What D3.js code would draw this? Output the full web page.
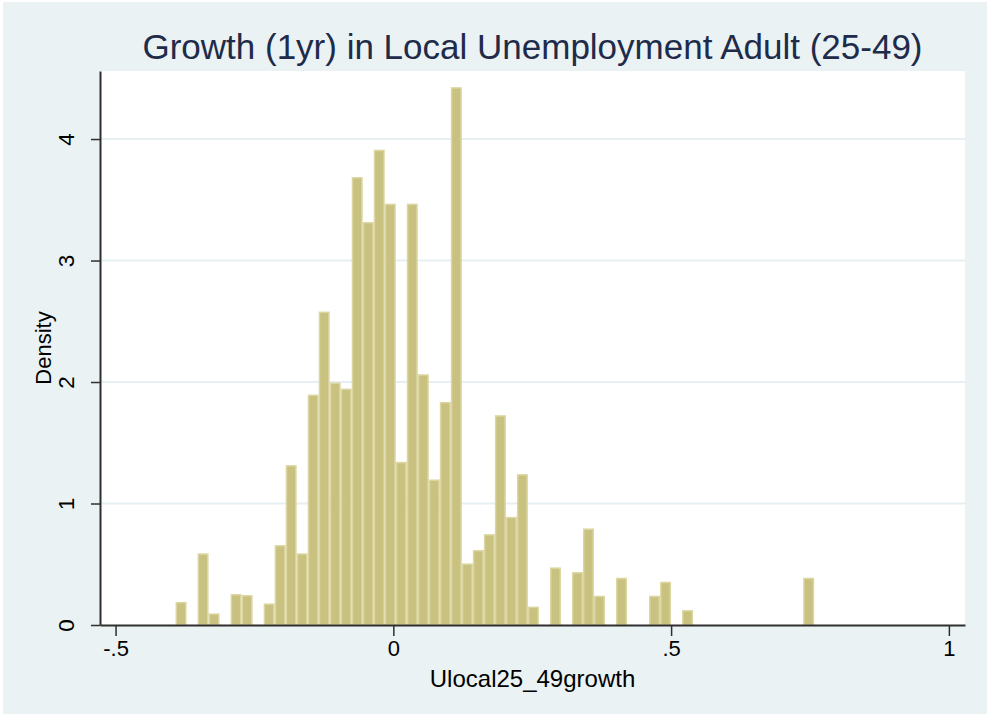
<!DOCTYPE html>
<html>
<head>
<meta charset="utf-8">
<script src="https://cdn.jsdelivr.net/npm/d3@7"></script>
<style>
  html, body { margin: 0; padding: 0; background: #ffffff; }
  svg { display: block; font-family: "Liberation Sans", Arial, sans-serif; }
</style>
</head>
<body>
<svg id="chart" width="990" height="722"></svg>
<script>
// Histogram of Ulocal25_49growth: 58 equal-width bins, density scale
const binStart = -0.392;
const binWidth = 0.01982;
const densities = [
  0.19, 0, 0.59, 0.096, 0, 0.255, 0.247, 0, 0.178, 0.658,
  1.316, 0.59, 1.897, 2.58, 1.996, 1.946, 3.687, 3.317, 3.912, 3.468,
  1.343, 3.468, 2.064, 1.198, 1.836, 4.427, 0.507, 0.617, 0.748, 1.727,
  0.89, 1.242, 0.151, 0, 0.474, 0, 0.436, 0.795, 0.241, 0,
  0.389, 0, 0, 0.241, 0.356, 0, 0.123, 0, 0, 0,
  0, 0, 0, 0, 0, 0, 0, 0.389
];
const xTicks = [-0.5, 0, 0.5, 1];
const xTickLabels = ["-.5", "0", ".5", "1"];
const yTicks = [0, 1, 2, 3, 4];
const titleText = "Growth (1yr) in Local Unemployment Adult (25-49)";
const xTitle = "Ulocal25_49growth";
const yTitle = "Density";

const bins = densities.map((d, i) => ({
  x0: binStart + i * binWidth,
  x1: binStart + (i + 1) * binWidth,
  density: d
}));

const svg = d3.select("#chart");
const plot = { left: 100, right: 965, top: 71, bottom: 625 };

// outer graph region
svg.append("rect")
  .attr("x", 3).attr("y", 2).attr("width", 984).attr("height", 712)
  .attr("fill", "#eaf2f3");

// plot region
svg.append("rect")
  .attr("x", plot.left).attr("y", plot.top)
  .attr("width", plot.right - plot.left).attr("height", plot.bottom - plot.top)
  .attr("fill", "#ffffff");

const x = d3.scaleLinear().domain([-0.528, 1.029]).range([plot.left, plot.right]);
const y = d3.scaleLinear().domain([0, 4.56]).range([plot.bottom, plot.top]);

// horizontal grid lines
svg.append("g")
  .selectAll("line")
  .data(yTicks.filter(t => t > 0))
  .join("line")
  .attr("x1", plot.left).attr("x2", plot.right)
  .attr("y1", d => y(d)).attr("y2", d => y(d))
  .attr("stroke", "#e6eff1").attr("stroke-width", 2);

// bars
svg.append("g")
  .selectAll("rect")
  .data(bins.filter(b => b.density > 0))
  .join("rect")
  .attr("x", d => x(d.x0) + 0.75)
  .attr("y", d => y(d.density) + 0.75)
  .attr("width", d => x(d.x1) - x(d.x0) - 1.5)
  .attr("height", d => y(0) - y(d.density) - 0.75)
  .attr("fill", "#c9c17f")
  .attr("stroke", "#dcd7a2")
  .attr("stroke-width", 1.5);

// x axis
const xAxis = svg.append("g")
  .attr("transform", `translate(0,${plot.bottom})`)
  .call(d3.axisBottom(x)
    .tickValues(xTicks)
    .tickFormat((d, i) => xTickLabels[i])
    .tickSizeInner(11).tickSizeOuter(0).tickPadding(4));
xAxis.select(".domain").attr("stroke", "#2f2f2f").attr("stroke-width", 2);
xAxis.selectAll(".tick line").attr("stroke", "#2f2f2f").attr("stroke-width", 1.5);
xAxis.selectAll(".tick text")
  .attr("font-size", 22).attr("fill", "#000").attr("dy", "0.71em")
  .attr("font-family", "Liberation Sans, Arial, sans-serif");

// y axis
const yAxis = svg.append("g")
  .attr("transform", `translate(${plot.left},0)`)
  .call(d3.axisLeft(y)
    .tickValues(yTicks)
    .tickFormat(d3.format("d"))
    .tickSizeInner(9).tickSizeOuter(0).tickPadding(0));
yAxis.select(".domain").attr("stroke", "#2f2f2f").attr("stroke-width", 2);
yAxis.selectAll(".tick line").attr("stroke", "#2f2f2f").attr("stroke-width", 1.5);
yAxis.selectAll(".tick text")
  .attr("font-size", 22.5).attr("fill", "#000")
  .attr("font-family", "Liberation Sans, Arial, sans-serif")
  .attr("text-anchor", "middle")
  .attr("x", null).attr("dy", null)
  .attr("transform", "translate(-26,0) rotate(-90)");

// titles
svg.append("text")
  .attr("x", (plot.left + plot.right) / 2).attr("y", 59)
  .attr("text-anchor", "middle")
  .attr("font-size", 35).attr("fill", "#1e2b4a")
  .text(titleText);

svg.append("text")
  .attr("x", (plot.left + plot.right) / 2).attr("y", 687)
  .attr("text-anchor", "middle")
  .attr("font-size", 24).attr("fill", "#000")
  .text(xTitle);

svg.append("text")
  .attr("transform", `translate(51,${(plot.top + plot.bottom) / 2}) rotate(-90)`)
  .attr("text-anchor", "middle")
  .attr("font-size", 22).attr("fill", "#000")
  .text(yTitle);
</script>
</body>
</html>
